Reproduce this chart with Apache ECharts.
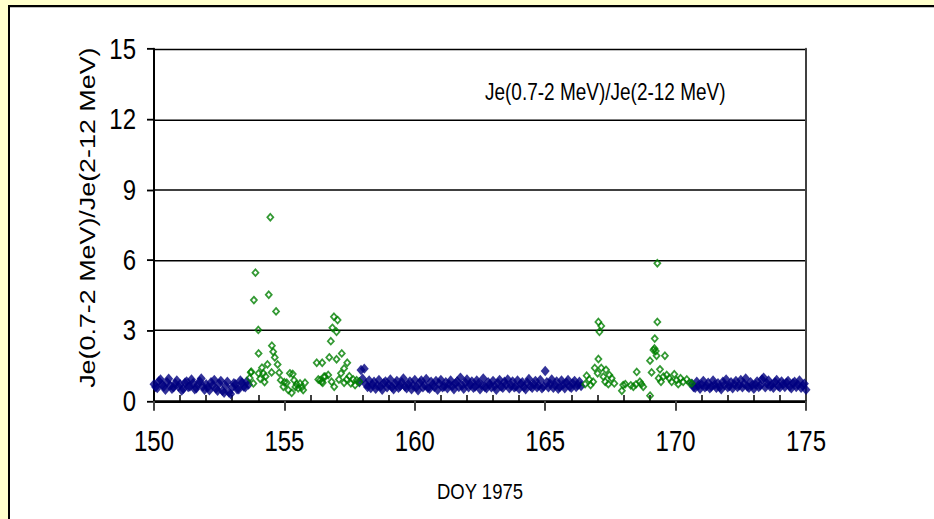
<!DOCTYPE html>
<html>
<head>
<meta charset="utf-8">
<script src="https://cdn.jsdelivr.net/npm/echarts@6/dist/echarts.min.js"></script>
<style>
  html, body { margin: 0; padding: 0; background: #FFFFCC; width: 934px; height: 519px; }
  /* the chart is laid out at 934x425 and stretched vertically to fill 519px */
  #chart { width: 934px; height: 425px; transform-origin: 0 0; transform: scaleY(1.2212); }
</style>
</head>
<body>
<div id="chart"></div>
<script>
// Axis settings
const xMin = 150, xMax = 175, xStep = 5;
const yMin = 0, yMax = 15, yStep = 3;
const minorDays = [151,152,153,154,156,157,158,159,161,162,163,164,166,167,168,169,171,172,173,174];

// Quiet-time ratio, 1.5-hour averages (filled navy diamonds)
const cadence = 0.0625; // days between samples
const quietStartA = 150.0;
const quietA = [
  0.72,0.60,0.55,0.85,0.92,0.70,0.62,0.48,0.80,0.95,
  0.66,0.52,0.58,0.75,0.88,0.62,0.72,0.45,0.52,0.78,
  0.84,0.60,0.62,0.92,0.76,0.50,0.54,0.70,0.84,0.96,
  0.62,0.48,0.72,0.58,0.46,0.80,0.66,0.90,0.53,0.44,
  0.74,0.86,0.44,0.35,0.64,0.82,0.36,0.30,0.58,0.76,
  0.72,0.50,0.50,0.88,0.78,0.62,0.58,0.84,0.70
];
const quietStartB = 157.875;
const quietB = [
  0.80,1.32,0.95,1.38,0.72,0.60,0.88,0.55,0.70,0.82,
  0.52,0.66,0.90,0.62,0.48,0.76,0.84,0.58,0.70,0.92,
  0.60,0.50,0.74,0.86,0.56,0.64,0.80,0.96,0.62,0.54,
  0.72,0.84,0.50,0.66,0.90,0.60,0.46,0.78,0.88,0.58,
  0.68,0.94,0.56,0.52,0.82,0.70,0.60,0.86,0.48,0.74,
  0.90,0.58,0.62,0.80,0.54,0.72,0.88,0.64,0.50,0.76,
  0.84,0.60,1.00,0.66,0.52,0.78,0.92,0.58,0.70,0.84,
  0.56,0.62,0.88,0.74,0.50,0.68,0.96,0.60,0.54,0.80,
  0.72,0.58,0.86,0.64,0.48,0.76,0.90,0.62,0.56,0.82,
  0.70,0.92,0.54,0.66,0.84,0.58,0.62,0.88,0.52,0.74,
  0.80,0.60,0.50,0.78,0.94,0.64,0.56,0.72,0.86,0.58,
  0.66,0.90,0.54,0.62,1.28,0.80,0.58,0.74,0.92,0.56,
  0.68,0.84,0.52,0.60,0.88,0.70,0.54,0.78,0.90,0.62,
  0.56,0.74,0.86,0.60,0.68,0.82,0.64
];
const quietStartC = 170.625;
const quietC = [
  0.74,0.60,0.56,0.82,0.66,0.52,0.70,0.86,0.58,0.64,
  0.78,0.54,0.62,0.88,0.70,0.56,0.76,0.60,0.50,0.82,
  0.68,0.92,0.58,0.64,0.80,0.54,0.72,0.86,0.60,0.66,
  0.90,0.58,0.74,0.96,0.62,0.56,0.80,0.68,0.52,0.70,
  0.84,0.60,0.66,0.92,1.00,0.58,0.76,0.88,0.62,0.70,
  0.56,0.80,0.90,0.64,0.58,0.84,0.72,0.60,0.78,0.86,
  0.62,0.54,0.76,0.82,0.60,0.70,0.88,0.56,0.66,0.74,
  0.48
];

// Event intervals (open green diamonds): [DOY, ratio]
const eventA = [
  [153.67,0.98],[153.71,1.22],[153.73,1.25],[153.81,0.75],[153.83,4.30],[153.89,5.47],
  [154.00,3.03],[154.01,2.03],[154.01,1.18],[154.07,0.95],[154.14,1.42],[154.19,1.18],
  [154.24,0.81],[154.28,1.05],[154.35,1.56],[154.40,4.53],[154.46,7.83],[154.51,1.22],
  [154.52,2.36],[154.57,2.10],[154.63,1.86],[154.68,3.82],[154.74,1.56],[154.80,1.21],
  [154.86,0.89],[154.96,0.61],[155.00,0.80],[155.09,0.78],[155.15,0.47],[155.21,1.18],
  [155.28,0.35],[155.32,1.15],[155.37,0.89],[155.42,0.60],[155.47,0.72],[155.53,0.54],
  [155.60,0.75],[155.66,0.58],[155.72,0.47],[155.79,0.78],
  [156.24,1.63],[156.30,0.92],[156.37,0.89],[156.43,0.82],[156.45,1.63],[156.47,0.78],
  [156.52,1.04],[156.56,1.04],[156.68,1.11],[156.72,1.86],[156.78,2.55],[156.81,0.82],
  [156.84,3.12],[156.90,3.59],[156.91,0.61],[157.00,2.95],[157.00,1.78],[157.04,3.45],
  [157.09,0.92],[157.17,1.18],[157.20,2.03],[157.29,1.39],[157.29,0.78],[157.39,0.92],
  [157.41,1.63],[157.49,1.06],[157.55,0.75],[157.64,0.92],[157.71,0.68],[157.77,0.89],
  [157.87,0.82]
];
const eventB = [
  [166.53,0.72],[166.59,1.08],[166.69,0.92],[166.74,0.68],[166.84,0.82],[166.90,1.41],
  [167.01,1.18],[167.04,1.79],[167.04,3.37],[167.08,2.95],[167.15,3.20],[167.15,1.41],
  [167.23,1.04],[167.30,0.82],[167.33,1.33],[167.42,0.72],[167.46,1.11],[167.55,0.97],
  [167.65,0.75],[167.94,0.44],[167.99,0.68],[168.07,0.72],[168.28,0.67],[168.38,0.61],
  [168.48,0.71],[168.51,1.24],[168.63,0.82],[168.69,0.72],[168.76,0.61],[169.02,1.72],
  [169.02,0.23],[169.08,1.22],[169.15,2.17],[169.19,2.24],[169.20,2.66],[169.24,2.13],
  [169.27,1.93],[169.30,5.87],[169.30,3.37],[169.35,0.97],[169.40,1.35],[169.44,0.82],
  [169.53,1.04],[169.59,1.93],[169.66,1.11],[169.76,0.97],[169.85,0.82],[169.95,1.14],
  [170.04,0.89],[170.10,0.72],[170.19,0.97],[170.29,0.82],[170.43,0.92],[170.53,0.78],
  [170.62,0.75]
];

const seriesTitle = 'Je(0.7-2 MeV)/Je(2-12 MeV)';
const font = '"Liberation Sans", Arial, sans-serif';

// pair each averaged ratio with the DOY of its sample
function withDays(startDay, values) {
  return values.map((v, i) => [startDay + i * cadence, v]);
}

const chart = echarts.init(document.getElementById('chart'), null, { renderer: 'svg' });

const quietStyle = {
  type: 'scatter', xAxisIndex: 0, yAxisIndex: 0,
  symbol: 'diamond', symbolSize: [9, 8.5],
  itemStyle: { color: '#000080' }, silent: true, animation: false
};
const eventStyle = {
  type: 'scatter', xAxisIndex: 0, yAxisIndex: 0,
  symbol: 'diamond', symbolSize: [6, 5.5],
  itemStyle: { color: 'rgba(0,0,0,0)', borderColor: '#008000', borderWidth: 1.6 },
  silent: true, animation: false, z: 3
};

chart.setOption({
  backgroundColor: '#FFFFCC',
  animation: false,
  graphic: [
    { type: 'rect', left: 8, top: 4, z: -10,
      shape: { width: 940, height: 440 },
      style: { fill: '#FFFFFF', stroke: '#000000', lineWidth: 2 } },
    { type: 'text', left: 485, top: 66, z: 10,
      style: { text: seriesTitle, font: '19px ' + font, fill: '#000000' } }
  ],
  grid: { left: 154, right: 128, top: 40.1, bottom: 96.6, containLabel: false },
  xAxis: [
    {
      type: 'value', min: xMin, max: xMax, interval: xStep,
      name: 'DOY 1975', nameLocation: 'middle', nameGap: 64,
      nameTextStyle: { fontFamily: font, fontSize: 18.5, color: '#000' },
      axisLine: { show: true, onZero: false, lineStyle: { color: '#000', width: 2 } },
      axisTick: { show: true, length: 8, lineStyle: { color: '#444', width: 2 } },
      axisLabel: { fontFamily: font, fontSize: 24, color: '#000', margin: 21 },
      splitLine: { show: false }
    },
    {
      type: 'value', min: xMin, max: xMax, position: 'bottom',
      axisLine: { show: false },
      axisTick: { show: true, inside: true, length: 5, customValues: minorDays,
                  lineStyle: { color: '#000', width: 1.5 } },
      axisLabel: { show: false },
      splitLine: { show: false }
    }
  ],
  yAxis: [
    {
      type: 'value', min: yMin, max: yMax, interval: yStep,
      name: seriesTitle, nameLocation: 'middle', nameGap: 51, nameRotate: 90,
      nameTextStyle: { fontFamily: font, fontSize: 22, color: '#000', padding: [0, 0, 0, 12] },
      axisLine: { show: true, onZero: false, lineStyle: { color: '#000', width: 2 } },
      axisTick: { show: true, length: 7, lineStyle: { color: '#000', width: 1.5 } },
      axisLabel: { fontFamily: font, fontSize: 24, color: '#000', margin: 18 },
      splitLine: { show: true, lineStyle: { color: '#000', width: 1.2 } }
    },
    {
      type: 'value', min: yMin, max: yMax, position: 'right',
      axisLine: { show: true, onZero: false, lineStyle: { color: '#404040', width: 2 } },
      axisTick: { show: false }, axisLabel: { show: false }, splitLine: { show: false }
    }
  ],
  series: [
    Object.assign({ data: withDays(quietStartA, quietA) }, quietStyle),
    Object.assign({ data: withDays(quietStartB, quietB) }, quietStyle),
    Object.assign({ data: withDays(quietStartC, quietC) }, quietStyle),
    Object.assign({ data: eventA }, eventStyle),
    Object.assign({ data: eventB }, eventStyle)
  ]
});
</script>
</body>
</html>
